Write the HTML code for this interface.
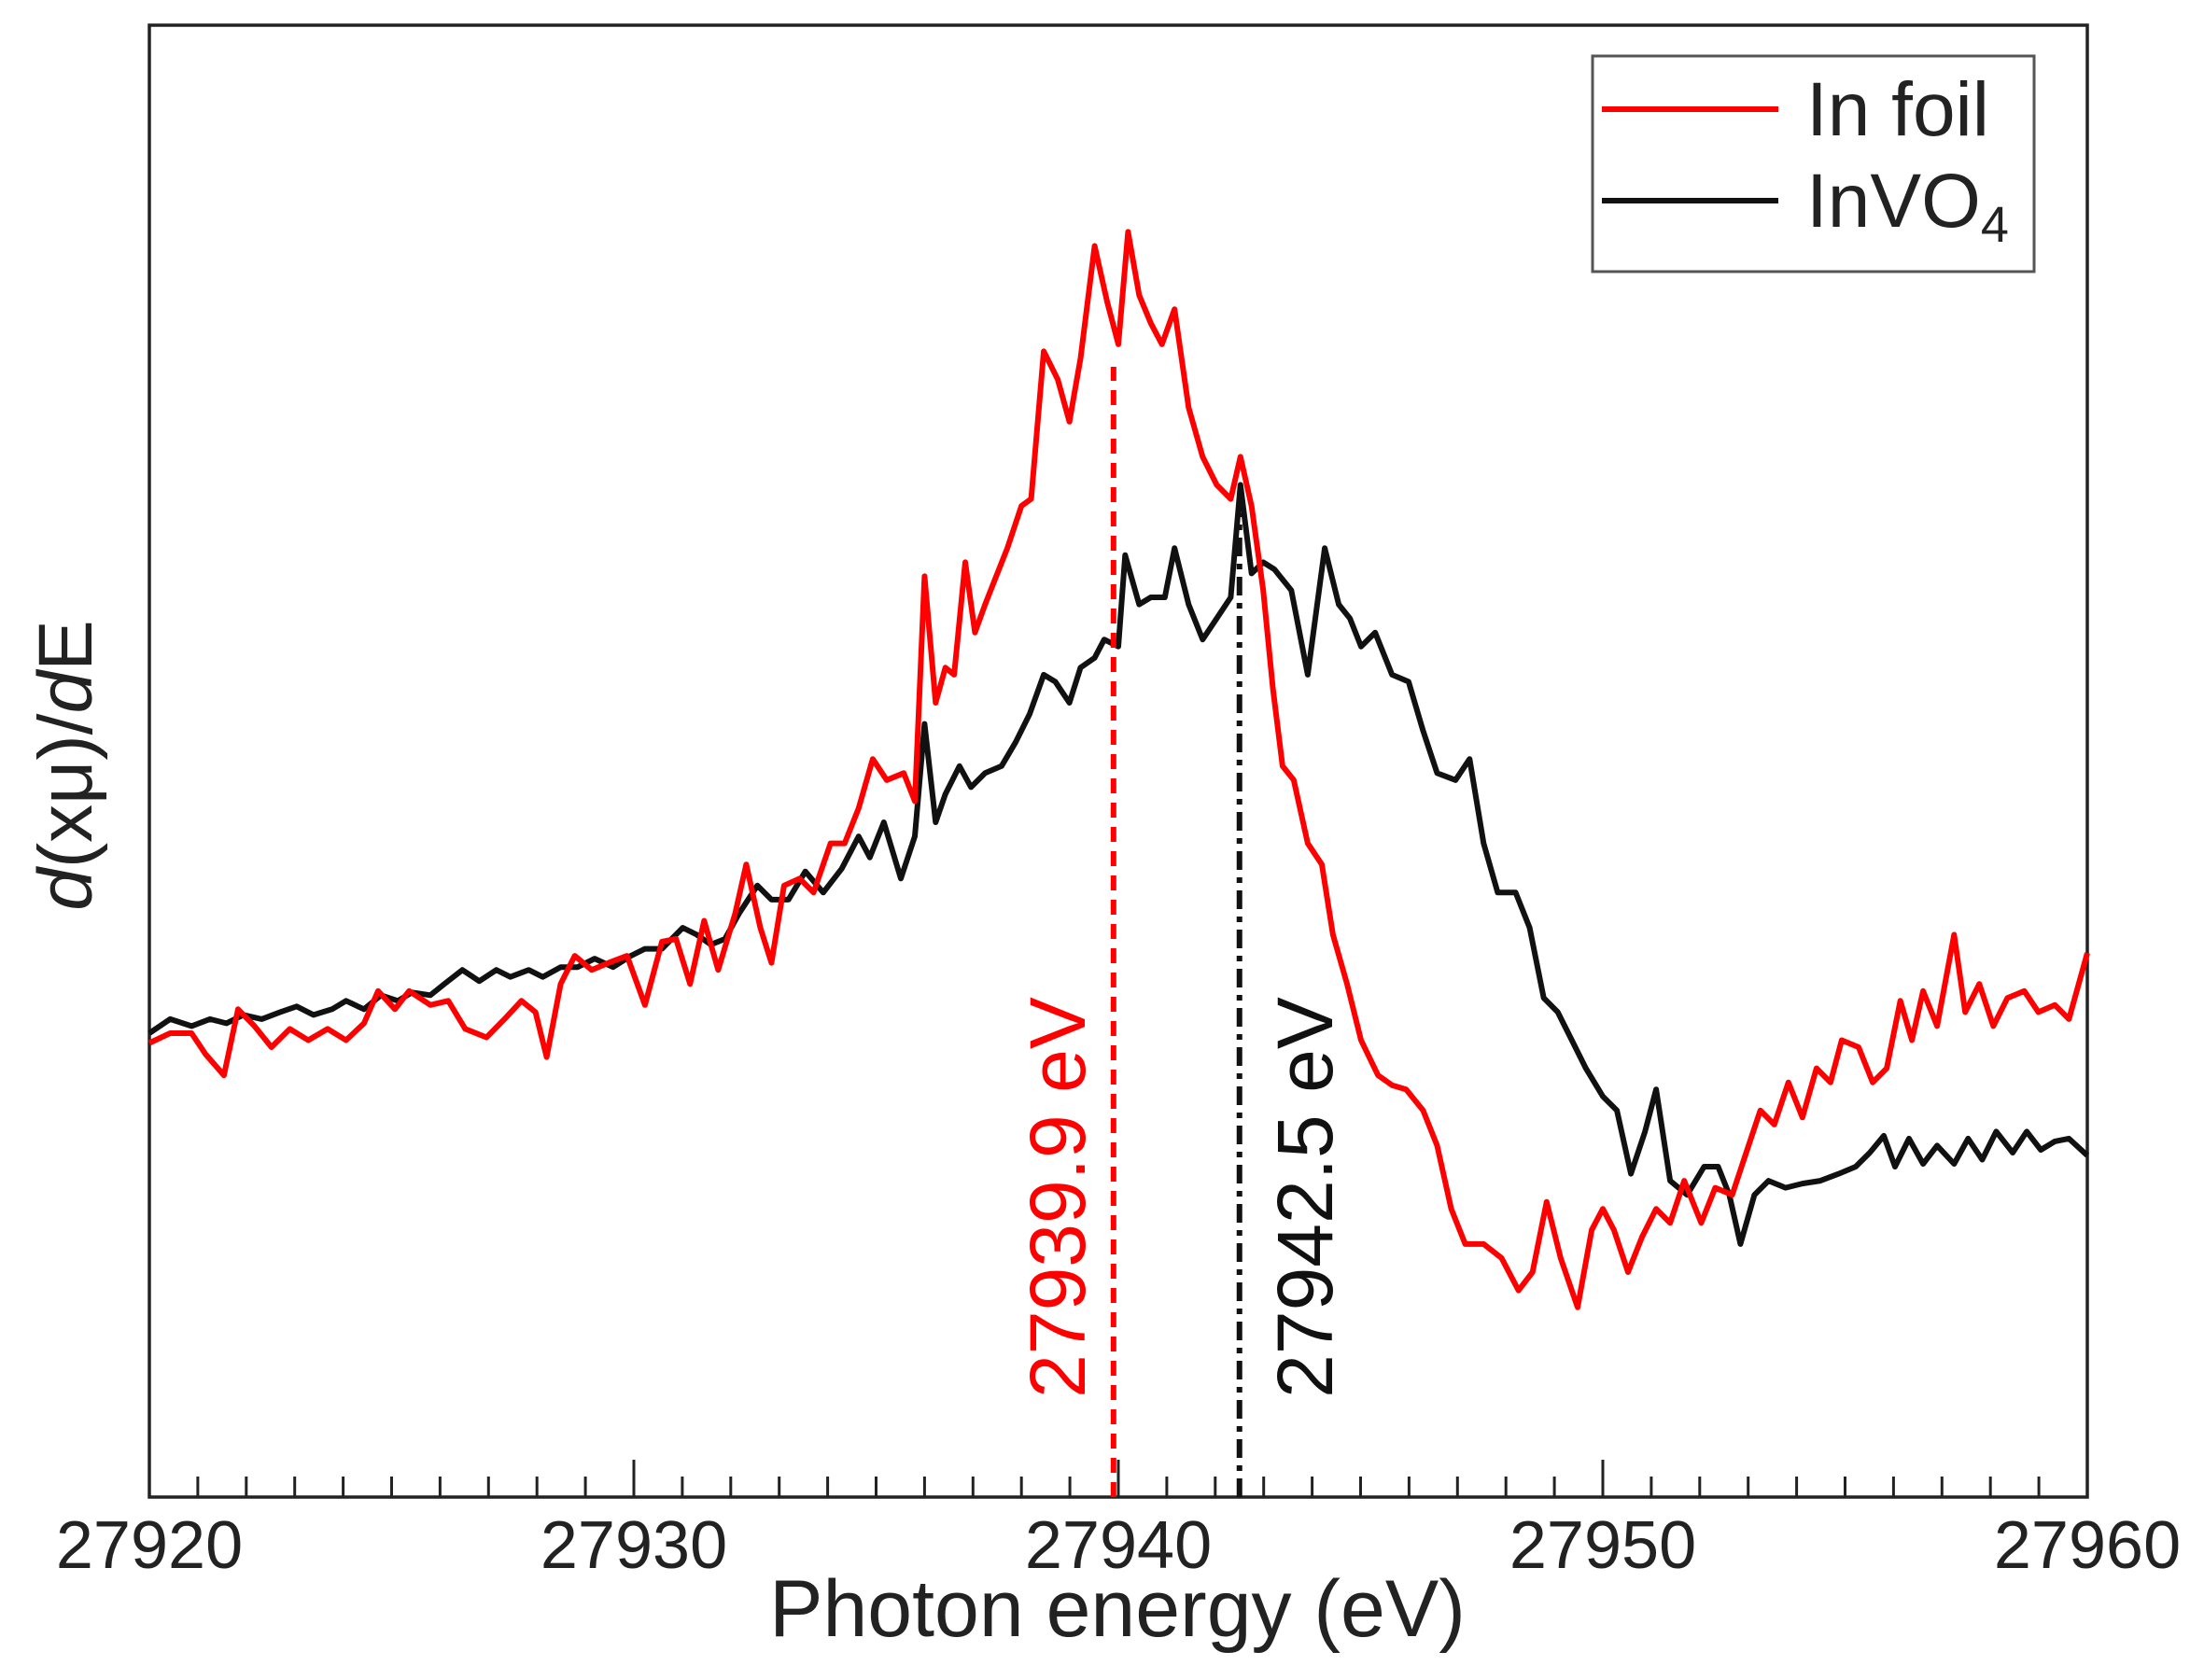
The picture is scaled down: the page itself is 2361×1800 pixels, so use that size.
<!DOCTYPE html>
<html><head><meta charset="utf-8"><style>
html,body{margin:0;padding:0;background:#fff;}
svg{display:block;font-family:"Liberation Sans",Arial,sans-serif;}
</style></head><body>
<svg id="chart" width="2361" height="1800" viewBox="0 0 2361 1800"></svg>
<script>
// energy offsets (eV above 27920) and derivative values (arbitrary units)
const redE = [0,0.43,0.87,1.16,1.54,1.83,2.17,2.52,2.90,3.28,3.68,4.06,4.43,4.72,5.07,5.36,5.80,6.17,6.52,6.96,7.33,7.68,7.97,8.20,8.49,8.78,9.13,9.48,9.86,10.23,10.58,10.87,11.16,11.45,11.74,12.09,12.32,12.61,12.84,13.10,13.42,13.71,14.06,14.35,14.64,14.93,15.22,15.57,15.80,16.00,16.23,16.43,16.61,16.84,17.04,17.25,17.48,17.71,18.00,18.20,18.46,18.75,18.99,19.22,19.51,19.77,20.00,20.20,20.43,20.67,20.90,21.16,21.45,21.74,22.03,22.32,22.52,22.75,22.99,23.19,23.39,23.62,23.91,24.20,24.43,24.72,25.01,25.36,25.65,25.94,26.29,26.58,26.87,27.16,27.54,27.91,28.26,28.55,28.84,29.13,29.48,29.77,30.00,30.23,30.52,30.81,31.10,31.39,31.68,32.03,32.32,32.67,32.96,33.25,33.54,33.83,34.12,34.41,34.70,34.93,35.28,35.57,35.86,36.14,36.38,36.61,36.90,37.25,37.48,37.77,38.06,38.35,38.70,38.99,39.33,39.62,40.00];
const redV = [32.3,33.0,33.0,31.5,30.0,34.7,33.5,32.0,33.3,32.5,33.3,32.5,33.7,36.0,34.7,36.0,35.0,35.3,33.3,32.7,34.0,35.3,34.5,31.3,36.5,38.5,37.5,38.0,38.5,35.0,39.5,39.7,36.5,41.0,37.5,41.5,45.0,40.5,38.0,43.5,44.0,43.0,46.5,46.5,49.0,52.5,51.0,51.5,49.5,65.5,56.5,59.0,58.5,66.5,61.5,63.5,65.5,67.5,70.5,71.0,81.5,79.5,76.5,81.0,89.0,85.0,82.0,90.0,85.5,83.5,82.0,84.5,77.5,74.0,72.0,71.0,74.0,70.5,64.5,57.5,52.0,51.0,46.5,45.0,40.0,36.5,32.5,30.0,29.3,29.0,27.5,25.0,20.5,18.0,18.0,17.0,14.7,16.0,21.0,17.0,13.5,19.0,20.5,19.0,16.0,18.5,20.5,19.5,22.5,19.5,22.0,21.5,24.5,27.5,26.5,29.5,27.0,30.5,29.5,32.5,32.0,29.5,30.5,35.3,32.5,36.0,33.5,40.0,34.5,36.5,33.5,35.5,36.0,34.5,35.0,34.0,38.7];
const blackE = [0,0.43,0.87,1.25,1.59,1.94,2.32,2.70,3.04,3.39,3.77,4.06,4.43,4.78,5.13,5.42,5.80,6.09,6.46,6.81,7.16,7.45,7.83,8.12,8.49,8.84,9.19,9.57,9.94,10.23,10.58,11.01,11.30,11.59,11.88,12.17,12.55,12.84,13.19,13.54,13.91,14.29,14.64,14.87,15.16,15.51,15.80,16.00,16.23,16.43,16.72,16.96,17.25,17.59,17.88,18.17,18.46,18.70,18.99,19.22,19.51,19.71,20.00,20.14,20.43,20.67,20.96,21.16,21.45,21.74,22.03,22.32,22.52,22.75,22.99,23.22,23.57,23.91,24.26,24.55,24.78,25.01,25.30,25.65,25.99,26.29,26.58,26.96,27.25,27.54,27.83,28.20,28.49,28.78,29.07,29.36,29.65,30.00,30.29,30.58,30.87,31.10,31.39,31.74,32.09,32.38,32.61,32.84,33.13,33.42,33.77,34.12,34.49,34.87,35.22,35.51,35.80,36.03,36.32,36.61,36.90,37.25,37.54,37.83,38.12,38.46,38.75,39.04,39.33,39.62,40.00];
const blackV = [33.0,34.0,33.5,34.0,33.7,34.3,34.0,34.5,34.9,34.3,34.7,35.3,34.7,35.7,35.3,35.9,35.7,36.5,37.5,36.7,37.5,37.0,37.5,37.0,37.7,37.7,38.3,37.7,38.5,39.0,39.0,40.5,40.0,39.3,39.7,41.5,43.5,42.5,42.5,44.5,43.0,44.7,47.0,45.5,48.0,44.0,47.0,55.0,48.0,50.0,52.0,50.5,51.5,52.0,53.7,55.7,58.5,58.0,56.5,59.0,59.7,61.0,60.5,67.0,63.5,64.0,64.0,67.5,63.5,61.0,62.5,64.0,72.0,65.7,66.5,66.0,64.5,58.5,67.5,63.5,62.5,60.5,61.5,58.5,58.0,54.5,51.5,51.0,52.5,46.5,43.0,43.0,40.5,35.5,34.5,32.5,30.5,28.5,27.5,23.0,26.0,29.0,22.5,21.5,23.5,23.5,21.5,18.0,21.5,22.5,22.0,22.3,22.5,23.0,23.5,24.5,25.7,23.5,25.5,23.7,25.0,23.7,25.5,24.0,26.0,24.5,26.0,24.7,25.3,25.5,24.3];
const xTicks = [27920,27930,27940,27950,27960];
const edgeEnergies = [27939.9,27942.5];
const edgeTops = [80.4,70.0];
const edgeLabels = ["27939.9 eV","27942.5 eV"];

const NS="http://www.w3.org/2000/svg";
const svg=document.getElementById('chart');
const L=160,R=2236,T=27,B=1604;
const X0=27920,X1=27960,Y0=0,Y1=104.7;
const sx=e=>L+(e-X0)/(X1-X0)*(R-L);
const sy=v=>B-(v-Y0)/(Y1-Y0)*(B-T);
function mk(tag,attrs,parent){const el=document.createElementNS(NS,tag);for(const k in attrs)el.setAttribute(k,attrs[k]);(parent||svg).appendChild(el);return el;}

const frame=mk('rect',{x:L,y:T,width:R-L,height:B-T,fill:'none',stroke:'#222','stroke-width':3.5});



for(let e=X0;e<=X1;e++){
  const major=(e-X0)%10===0;
  const t=mk('line',{x1:sx(e),x2:sx(e),y1:B,y2:B-(major?40:22),stroke:'#222','stroke-width':3});
  
  
}
xTicks.forEach(v=>{
  const t=mk('text',{x:sx(v),y:1680,'font-size':72,'text-anchor':'middle',fill:'#222'});
  t.textContent=v;
  
  
});

function path(E,V){return E.map((e,i)=>(i?'L':'M')+sx(X0+e).toFixed(1)+','+sy(V[i]).toFixed(1)).join(' ');}
const bl=mk('path',{d:path(blackE,blackV),fill:'none',stroke:'#111','stroke-width':6,'stroke-linejoin':'round'});


const rd=mk('path',{d:path(redE,redV),fill:'none',stroke:'#ff0000','stroke-width':6,'stroke-linejoin':'round'});



const edgeColors=['#ff0000','#111'];
const edgeDash=['16,10','20,8,6,8'];
const labelX=[1132,1397];
edgeEnergies.forEach((e,i)=>{
  const ln=mk('line',{x1:sx(e),x2:sx(e),y1:B,y2:sy(edgeTops[i]),stroke:edgeColors[i],'stroke-width':6,'stroke-dasharray':edgeDash[i]});
  
  
  const tx=mk('text',{x:0,y:0,'font-size':84,'text-anchor':'middle',fill:edgeColors[i],transform:`translate(${labelX[i]+30},1283) rotate(-90)`});
  tx.textContent=edgeLabels[i];
  
  
});

const xt=mk('text',{x:1197,y:1753,'font-size':86,'text-anchor':'middle',fill:'#222'});
xt.textContent='Photon energy (eV)';


const yt=mk('text',{x:0,y:0,'font-size':82,'text-anchor':'middle',fill:'#222',transform:'translate(98,820) rotate(-90)'});
yt.innerHTML='<tspan font-style="italic">d</tspan>(xμ)/<tspan font-style="italic">d</tspan>E';



const lg=mk('g',{});


mk('rect',{x:1706,y:60,width:473,height:231,fill:'#fff',stroke:'#555','stroke-width':3},lg);
const l1=mk('line',{x1:1716,x2:1905,y1:117,y2:117,stroke:'#ff0000','stroke-width':6},lg);


const t1=mk('text',{x:1935,y:145,'font-size':82,fill:'#222'},lg);t1.textContent='In foil';
const l2=mk('line',{x1:1716,x2:1905,y1:215,y2:215,stroke:'#111','stroke-width':6},lg);


const t2=mk('text',{x:1935,y:243,'font-size':82,fill:'#222'},lg);
t2.innerHTML='InVO<tspan font-size="54" dy="16">4</tspan>';
</script>
</body></html>
